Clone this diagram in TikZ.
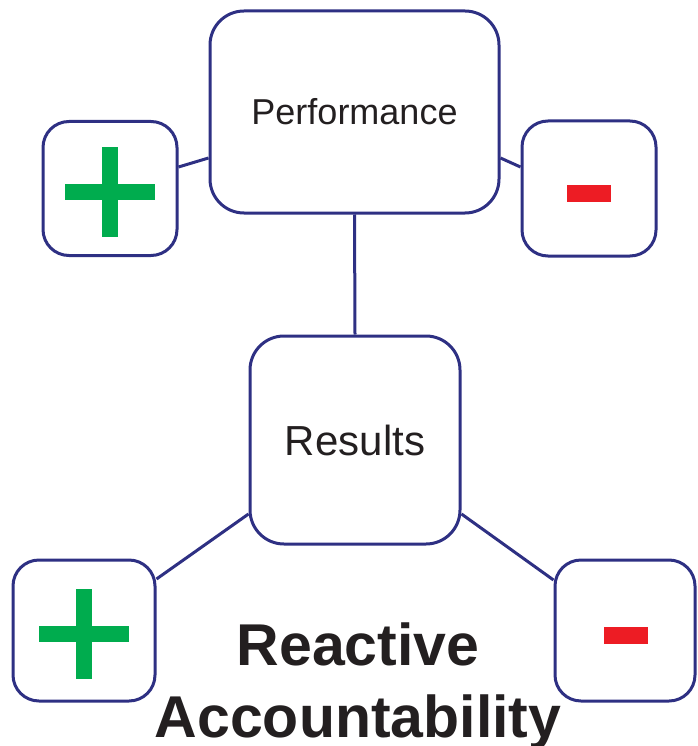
\documentclass[tikz,border=0pt]{standalone}
\usepackage{fontspec}
\setmainfont{Liberation Sans}
\definecolor{navy}{HTML}{2E3083}
\definecolor{pgreen}{HTML}{00AC4E}
\definecolor{mred}{HTML}{ED1C24}
\definecolor{ink}{HTML}{231F20}
\begin{document}
\begin{tikzpicture}[x=1pt,y=-1pt,
  bigbox/.style={draw=navy,line width=3pt,rounded corners=34pt,rectangle,inner sep=0pt,fill=white,text=ink},
  smallbox/.style={draw=navy,line width=3pt,rounded corners=26pt,rectangle,inner sep=0pt,fill=white},
  link/.style={draw=navy,line width=3pt}]
\useasboundingbox (0,0) rectangle (697,746);
\node[bigbox,minimum width=289pt,minimum height=202pt,font=\fontsize{36}{43}\selectfont] (perf) at (354.5,112) {Performance};
\node[smallbox,minimum width=134pt,minimum height=134pt] (plusT) at (110,188.5) {};
\node[smallbox,minimum width=134pt,minimum height=135pt] (minusT) at (589,188.5) {};
\node[bigbox,minimum width=210pt,minimum height=208pt,font=\fontsize{42}{50}\selectfont] (res) at (355,440) {Results};
\node[smallbox,minimum width=142pt,minimum height=141pt] (plusB) at (84,630.5) {};
\node[smallbox,minimum width=140pt,minimum height=141pt] (minusB) at (625,630.5) {};
% connectors
\draw[link] ([yshift=21.5pt]plusT.east) -- ([yshift=-46pt]perf.west);
\draw[link] ([yshift=-46pt]perf.east) -- ([yshift=21.5pt]minusT.west);
\draw[link] (perf.south) -- (res.north);
\draw[link] ([yshift=-74pt]res.west) -- ([yshift=51.5pt]plusB.east);
\draw[link] ([yshift=-74pt]res.east) -- ([yshift=50.5pt]minusB.west);
% signs
\fill[pgreen] (102,147) rectangle (118,237);
\fill[pgreen] (65,184) rectangle (155,200);
\fill[mred] (567,185) rectangle (611,202);
\fill[pgreen] (76,589) rectangle (92,679);
\fill[pgreen] (39,626) rectangle (129,642);
\fill[mred] (604,627) rectangle (648,644);
% title
\node[anchor=base,text=ink,font=\bfseries\fontsize{59}{72}\selectfont] (t1) at (358,665) {Reactive};
\node[anchor=base,text=ink,font=\bfseries\fontsize{59}{72}\selectfont] (t2) at (358,737) {Accountability};
\end{tikzpicture}
\end{document}
